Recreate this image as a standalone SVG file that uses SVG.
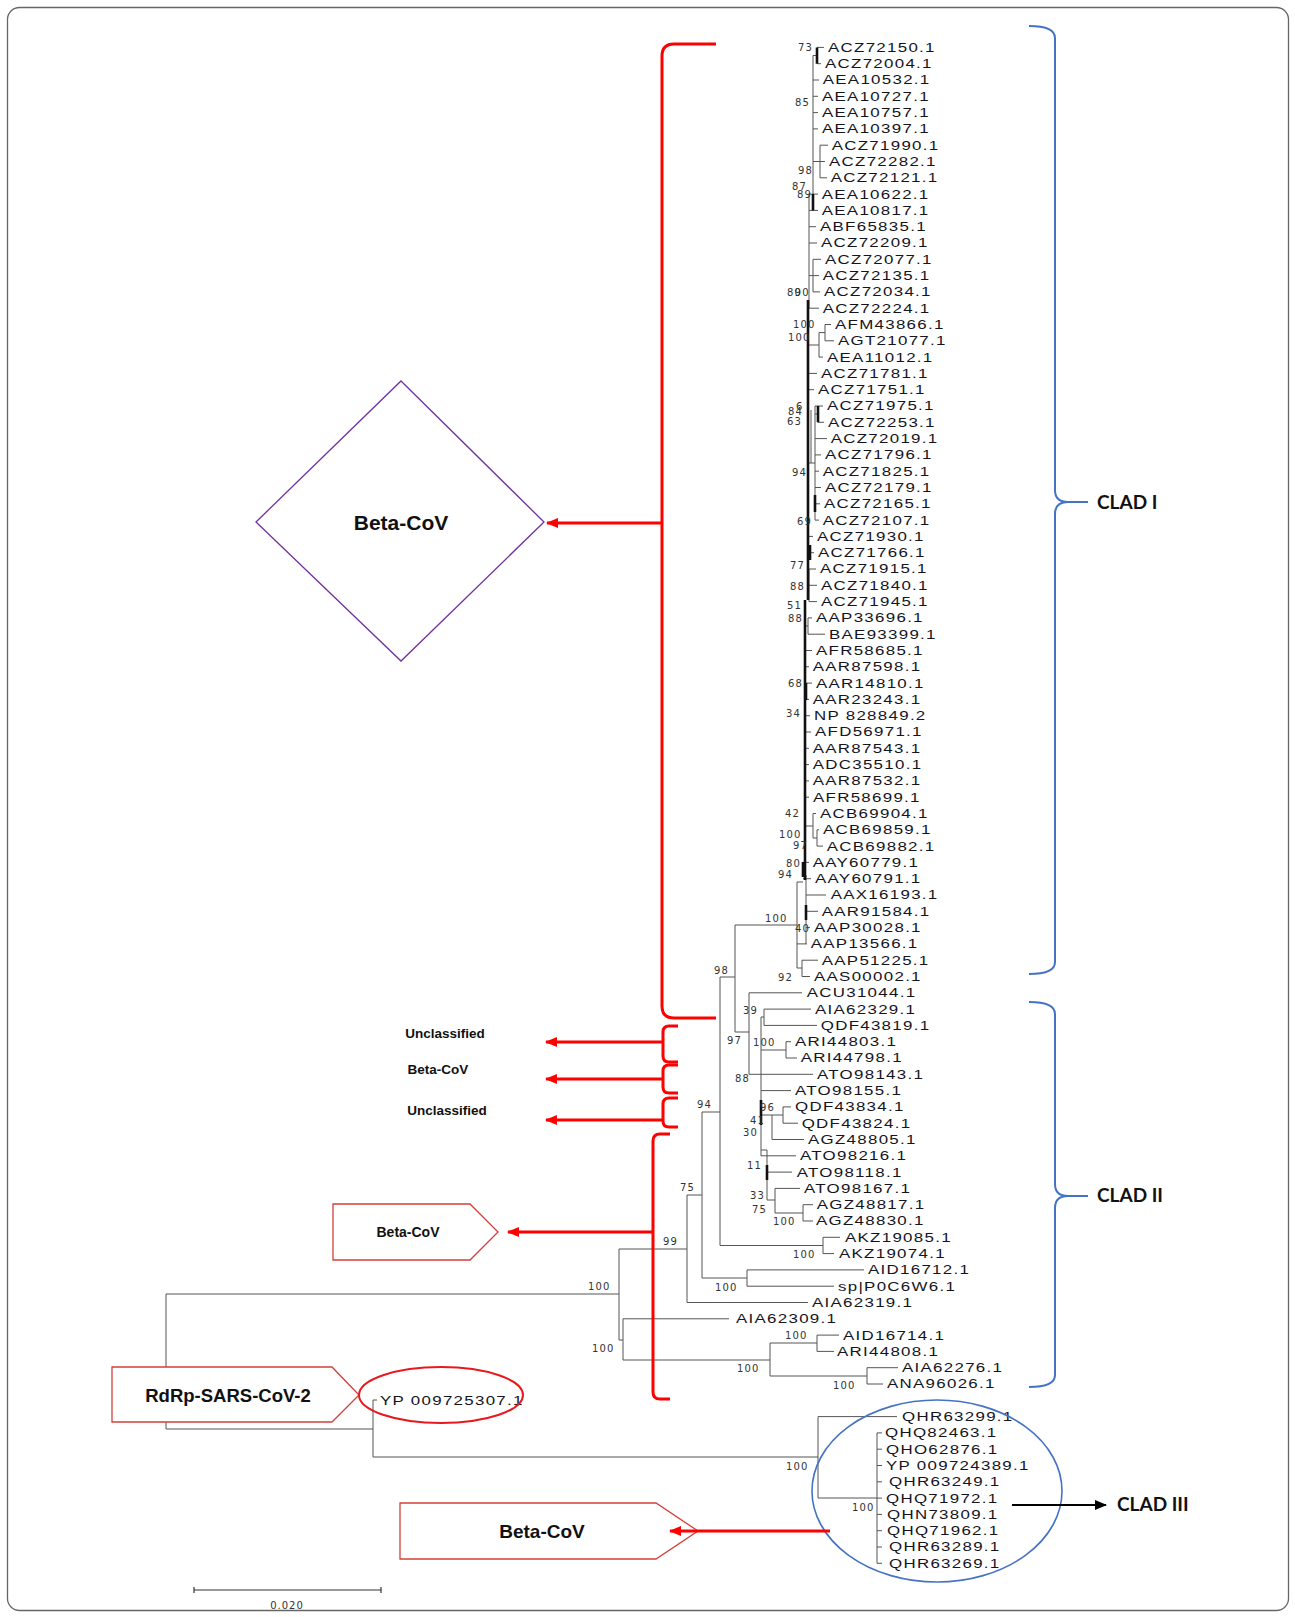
<svg xmlns="http://www.w3.org/2000/svg" width="1295" height="1617" viewBox="0 0 1295 1617">
<style>
.t{fill:none;stroke:#555;stroke-width:1}
.tk{fill:none;stroke:#111;stroke-width:2.6}
.l{font-family:"Liberation Sans",Arial,sans-serif;font-size:13px;letter-spacing:1px;fill:#14141e}
.b{font-family:"DejaVu Sans",sans-serif;font-size:10px;letter-spacing:1.2px;fill:#333}
.rb{fill:none;stroke:#FF0000;stroke-width:3}
.ra{fill:none;stroke:#FF0000;stroke-width:3.2}
.pent{fill:#fff;stroke:#D43F3A;stroke-width:1.3}
.bl{fill:none;stroke:#4472C4;stroke-width:2}
.ann{font-family:"Liberation Sans",Arial,sans-serif;font-weight:bold;fill:#111;text-anchor:middle}
.clad{font-family:Lato,"Liberation Sans",sans-serif;font-weight:bold;font-size:19px;fill:#111}
</style>
<defs>
<marker id="ar" viewBox="0 0 12 10" markerWidth="12" markerHeight="10" refX="11" refY="5" orient="auto" markerUnits="userSpaceOnUse"><path d="M0,0 L12,5 L0,10 z" fill="#FF0000"/></marker>
<marker id="ak" viewBox="0 0 12 10" markerWidth="12" markerHeight="10" refX="11" refY="5" orient="auto" markerUnits="userSpaceOnUse"><path d="M0,0 L12,5 L0,10 z" fill="#000"/></marker>
</defs>
<rect x="0" y="0" width="1295" height="1617" fill="#fff"/>
<rect x="7.5" y="7.5" width="1281" height="1603" rx="12" fill="none" stroke="#666" stroke-width="1.3"/>

<g id="connectors">
<path class="t" d="M166,1294 V1429 M166,1294 H619 M166,1429 H373 M373,1400 V1457 M373,1400 H377 M373,1457 H818
M818,1416.6 V1498 M818,1416.6 H897 M818,1498 H877 M877,1432.9 V1563.3
M877,1432.9 H882 M877,1449.2 H882 M877,1465.5 H882 M877,1481.8 H882 M877,1498.1 H882 M877,1514.4 H882 M877,1530.7 H882 M877,1547 H882 M877,1563.3 H882
M619,1249 V1340 M619,1249 H687 M619,1340 H623 M623,1318.8 V1360 M623,1318.8 H729 M623,1360 H770
M770,1343 V1376 M770,1343 H817 M770,1376 H867 M817,1335.1 V1351.4 M817,1335.1 H839 M817,1351.4 H834
M867,1367.7 V1384 M867,1367.7 H898 M867,1384 H883
M687,1195 V1302.5 M687,1195 H702 M687,1302.5 H808 M702,1112 V1278 M702,1112 H720 M702,1278 H747
M747,1269.9 V1286.2 M747,1269.9 H864 M747,1286.2 H834
M720,977 V1245.5 M720,977 H735 M720,1245.5 H823 M823,1237.3 V1253.6 M823,1237.3 H840 M823,1253.6 H834
M735,925 V1032 M735,925 H797 M735,1032 H749 M749,992.8 V1074.3 M749,992.8 H802 M749,1074.3 H813
M761,1017 V1156 M761,1017 H764 M764,1009.1 V1025.4 M764,1009.1 H811 M764,1025.4 H817
M761,1050 H786 M786,1041.7 V1058 M786,1041.7 H791 M786,1058 H797 M761,1090.6 H791
M761,1115 H783 M783,1106.9 V1123.2 M783,1106.9 H791 M783,1123.2 H798 M772,1115 V1139.5 M772,1139.5 H804
M761,1155.8 H796 M761,1150 H767 M767,1150 V1200 M767,1172.1 H792 M767,1200 H775
M775,1188.4 V1213 M775,1188.4 H800 M775,1213 H803 M803,1204.7 V1221 M803,1204.7 H813 M803,1221 H813
M797,882 V968 M797,882 H803 M797,968 H802 M802,960.2 V976.5 M802,960.2 H818 M802,976.5 H810
M806,875 V944 M806,895 H826 M806,911.3 H818 M806,927.6 H810 M797,943.9 H807 M803,862.4 H809 M803,878.7 H811
M805,826 H813 M813,813.5 V838 M813,813.5 H816 M813,838 H817 M817,829.8 V846.1 M817,829.8 H819 M817,846.1 H823
M805,650.5 H812 M805,666.8 H809 M805,683.1 H812 M805,699.4 H809 M805,715.7 H810 M805,732 H811 M805,748.3 H809 M805,764.6 H809 M805,780.9 H809 M805,797.2 H809
M808,617.9 V634.2 M805,626 H808 M808,617.9 H812 M808,634.2 H825
M808,536.4 H813 M808,552.7 H814 M809,569 V601.6 M808,585 H809 M809,569 H816 M809,585.3 H817 M809,601.6 H817
M815,406 V520.1 M811,410 V463 M808,463 H815 M815,406 H823 M815,414 H818 M818,422.3 H824 M815,438.6 H827 M815,454.9 H821 M815,471.2 H819 M815,487.5 H821 M815,503.8 H820 M815,520.1 H819
M808,345 H819 M819,332.6 V357.1 M819,332.6 H825 M825,324.5 V340.8 M825,324.5 H831 M825,340.8 H834 M819,357.1 H823 M808,373.4 H817 M808,389.7 H814
M809,194.1 V308.2 M809,194.1 H818 M809,210.4 H818 M809,226.7 H816 M809,243 H817 M813,259.3 V291.9 M809,275.6 H813 M813,259.3 H821 M813,275.6 H819 M813,291.9 H820 M809,308.2 H819
M813,55.5 V194.1 M813,55.5 H817 M817,47.4 H824 M817,63.7 H821 M813,80 H819 M813,96.3 H818 M813,112.6 H818 M813,128.9 H818
M820,145.2 V177.8 M820,145.2 H828 M813,161.5 H825 M820,177.8 H827"/>
<path class="tk" d="M817,47.4 V63.7 M808,300 V600 M805,600 V880 M813,194.1 V210.4 M818,406 V422.3 M815,495 V512 M810,545 V560 M806,683 V700 M803,862 V877 M806,905 V920 M761,1100 V1125 M767,1165 V1180 M805,700 V850"/>
</g>

<g id="leaves" transform="scale(1.3,1)">
<text class="l" x="636.92" y="51.9">ACZ72150.1</text>
<text class="l" x="634.62" y="68.2">ACZ72004.1</text>
<text class="l" x="632.85" y="84.5">AEA10532.1</text>
<text class="l" x="632.31" y="100.8">AEA10727.1</text>
<text class="l" x="632.31" y="117.1">AEA10757.1</text>
<text class="l" x="632.31" y="133.4">AEA10397.1</text>
<text class="l" x="639.77" y="149.7">ACZ71990.1</text>
<text class="l" x="637.69" y="166">ACZ72282.1</text>
<text class="l" x="639.00" y="182.3">ACZ72121.1</text>
<text class="l" x="632.08" y="198.6">AEA10622.1</text>
<text class="l" x="632.08" y="214.9">AEA10817.1</text>
<text class="l" x="630.77" y="231.2">ABF65835.1</text>
<text class="l" x="631.54" y="247.5">ACZ72209.1</text>
<text class="l" x="634.62" y="263.8">ACZ72077.1</text>
<text class="l" x="632.85" y="280.1">ACZ72135.1</text>
<text class="l" x="633.85" y="296.4">ACZ72034.1</text>
<text class="l" x="632.85" y="312.7">ACZ72224.1</text>
<text class="l" x="642.31" y="329">AFM43866.1</text>
<text class="l" x="644.62" y="345.3">AGT21077.1</text>
<text class="l" x="636.15" y="361.6">AEA11012.1</text>
<text class="l" x="631.54" y="377.9">ACZ71781.1</text>
<text class="l" x="629.23" y="394.2">ACZ71751.1</text>
<text class="l" x="636.15" y="410.5">ACZ71975.1</text>
<text class="l" x="636.92" y="426.8">ACZ72253.1</text>
<text class="l" x="639.00" y="443.1">ACZ72019.1</text>
<text class="l" x="634.62" y="459.4">ACZ71796.1</text>
<text class="l" x="632.85" y="475.7">ACZ71825.1</text>
<text class="l" x="634.62" y="492">ACZ72179.1</text>
<text class="l" x="633.85" y="508.3">ACZ72165.1</text>
<text class="l" x="632.85" y="524.6">ACZ72107.1</text>
<text class="l" x="628.46" y="540.9">ACZ71930.1</text>
<text class="l" x="629.23" y="557.2">ACZ71766.1</text>
<text class="l" x="630.77" y="573.5">ACZ71915.1</text>
<text class="l" x="631.54" y="589.8">ACZ71840.1</text>
<text class="l" x="631.54" y="606.1">ACZ71945.1</text>
<text class="l" x="627.69" y="622.4">AAP33696.1</text>
<text class="l" x="637.69" y="638.7">BAE93399.1</text>
<text class="l" x="627.69" y="655">AFR58685.1</text>
<text class="l" x="625.15" y="671.3">AAR87598.1</text>
<text class="l" x="627.69" y="687.6">AAR14810.1</text>
<text class="l" x="625.15" y="703.9">AAR23243.1</text>
<text class="l" x="626.15" y="720.2">NP 828849.2</text>
<text class="l" x="626.92" y="736.5">AFD56971.1</text>
<text class="l" x="625.15" y="752.8">AAR87543.1</text>
<text class="l" x="625.15" y="769.1">ADC35510.1</text>
<text class="l" x="625.15" y="785.4">AAR87532.1</text>
<text class="l" x="625.38" y="801.7">AFR58699.1</text>
<text class="l" x="630.77" y="818">ACB69904.1</text>
<text class="l" x="633.08" y="834.3">ACB69859.1</text>
<text class="l" x="635.92" y="850.6">ACB69882.1</text>
<text class="l" x="625.15" y="866.9">AAY60779.1</text>
<text class="l" x="626.92" y="883.2">AAY60791.1</text>
<text class="l" x="639.00" y="899.5">AAX16193.1</text>
<text class="l" x="632.08" y="915.8">AAR91584.1</text>
<text class="l" x="626.15" y="932.1">AAP30028.1</text>
<text class="l" x="623.62" y="948.4">AAP13566.1</text>
<text class="l" x="632.08" y="964.7">AAP51225.1</text>
<text class="l" x="626.15" y="981">AAS00002.1</text>
<text class="l" x="620.54" y="997.3">ACU31044.1</text>
<text class="l" x="626.92" y="1013.6">AIA62329.1</text>
<text class="l" x="631.31" y="1029.9">QDF43819.1</text>
<text class="l" x="611.54" y="1046.2">ARI44803.1</text>
<text class="l" x="615.92" y="1062.5">ARI44798.1</text>
<text class="l" x="628.46" y="1078.8">ATO98143.1</text>
<text class="l" x="611.54" y="1095.1">ATO98155.1</text>
<text class="l" x="611.54" y="1111.4">QDF43834.1</text>
<text class="l" x="616.69" y="1127.7">QDF43824.1</text>
<text class="l" x="621.54" y="1144">AGZ48805.1</text>
<text class="l" x="615.38" y="1160.3">ATO98216.1</text>
<text class="l" x="612.85" y="1176.6">ATO98118.1</text>
<text class="l" x="618.46" y="1192.9">ATO98167.1</text>
<text class="l" x="628.23" y="1209.2">AGZ48817.1</text>
<text class="l" x="627.69" y="1225.5">AGZ48830.1</text>
<text class="l" x="650.00" y="1241.8">AKZ19085.1</text>
<text class="l" x="645.38" y="1258.1">AKZ19074.1</text>
<text class="l" x="667.69" y="1274.4">AID16712.1</text>
<text class="l" x="644.62" y="1290.7">sp|P0C6W6.1</text>
<text class="l" x="624.62" y="1307">AIA62319.1</text>
<text class="l" x="566.15" y="1323.3">AIA62309.1</text>
<text class="l" x="648.46" y="1339.6">AID16714.1</text>
<text class="l" x="643.85" y="1355.9">ARI44808.1</text>
<text class="l" x="693.85" y="1372.2">AIA62276.1</text>
<text class="l" x="682.31" y="1388.5">ANA96026.1</text>
<text class="l" x="292.31" y="1404.8">YP 009725307.1</text>
<text class="l" x="693.85" y="1421.1">QHR63299.1</text>
<text class="l" x="680.77" y="1437.4">QHQ82463.1</text>
<text class="l" x="681.54" y="1453.7">QHO62876.1</text>
<text class="l" x="681.54" y="1470">YP 009724389.1</text>
<text class="l" x="683.85" y="1486.3">QHR63249.1</text>
<text class="l" x="681.54" y="1502.6">QHQ71972.1</text>
<text class="l" x="682.31" y="1518.9">QHN73809.1</text>
<text class="l" x="682.31" y="1535.2">QHQ71962.1</text>
<text class="l" x="683.85" y="1551.5">QHR63289.1</text>
<text class="l" x="683.85" y="1567.8">QHR63269.1</text>
</g>

<g id="bootstrap">
<text class="b" x="798" y="51">73</text>
<text class="b" x="795" y="106">85</text>
<text class="b" x="798" y="174">98</text>
<text class="b" x="792" y="190">87</text>
<text class="b" x="797" y="198">89</text>
<text class="b" x="787" y="296">80</text>
<text class="b" x="794.6" y="296">90</text>
<text class="b" x="793" y="328">100</text>
<text class="b" x="788" y="341">100</text>
<text class="b" x="796" y="409.5">6</text>
<text class="b" x="788" y="414.5">84</text>
<text class="b" x="787" y="424.5">63</text>
<text class="b" x="792" y="476">94</text>
<text class="b" x="797" y="525">69</text>
<text class="b" x="790" y="569">77</text>
<text class="b" x="790" y="590">88</text>
<text class="b" x="787" y="609">51</text>
<text class="b" x="788" y="622">88</text>
<text class="b" x="788" y="687">68</text>
<text class="b" x="786" y="717">34</text>
<text class="b" x="785" y="817">42</text>
<text class="b" x="779" y="838">100</text>
<text class="b" x="793" y="849">97</text>
<text class="b" x="786" y="867">80</text>
<text class="b" x="778" y="878">94</text>
<text class="b" x="765" y="922">100</text>
<text class="b" x="795" y="932">40</text>
<text class="b" x="714" y="974">98</text>
<text class="b" x="778" y="981">92</text>
<text class="b" x="743" y="1014">39</text>
<text class="b" x="727" y="1044">97</text>
<text class="b" x="753" y="1046">100</text>
<text class="b" x="735" y="1082">88</text>
<text class="b" x="697" y="1108">94</text>
<text class="b" x="760" y="1111">96</text>
<text class="b" x="750" y="1124">41</text>
<text class="b" x="743" y="1136">30</text>
<text class="b" x="747" y="1169">11</text>
<text class="b" x="680" y="1191">75</text>
<text class="b" x="750" y="1199">33</text>
<text class="b" x="752" y="1213">75</text>
<text class="b" x="773" y="1225">100</text>
<text class="b" x="663" y="1245">99</text>
<text class="b" x="793" y="1258">100</text>
<text class="b" x="588" y="1290">100</text>
<text class="b" x="715" y="1291">100</text>
<text class="b" x="785" y="1339">100</text>
<text class="b" x="592" y="1352">100</text>
<text class="b" x="737" y="1372">100</text>
<text class="b" x="833" y="1389">100</text>
<text class="b" x="786" y="1470">100</text>
<text class="b" x="852" y="1511">100</text>
</g>

<g id="beta-cov-diamond">
<path d="M401,381 L544,522 L401,661 L256,522 Z" fill="none" stroke="#7030A0" stroke-width="1.3"/>
<text class="ann" x="401" y="530" font-size="21">Beta-CoV</text>
</g>
<g id="unclassified-1"><text class="ann" x="445" y="1038" font-size="13.5">Unclassified</text></g>
<g id="beta-cov-small"><text class="ann" x="438" y="1074" font-size="13.5">Beta-CoV</text></g>
<g id="unclassified-2"><text class="ann" x="447" y="1115" font-size="13.5">Unclassified</text></g>
<g id="beta-cov-pentagon">
<path class="pent" d="M333,1204 L470,1204 L498,1232 L470,1260 L333,1260 Z"/>
<text class="ann" x="408" y="1237" font-size="14">Beta-CoV</text>
</g>
<g id="rdrp-sars-cov-2">
<path class="pent" d="M112,1367 L332,1367 L359,1395 L332,1422 L112,1422 Z"/>
<text class="ann" x="228" y="1401.5" font-size="18.5">RdRp-SARS-CoV-2</text>
</g>
<g id="sars-ellipse"><ellipse cx="441" cy="1395" rx="82" ry="28" fill="none" stroke="#E8191E" stroke-width="2"/></g>
<g id="clad3-ellipse"><ellipse cx="937" cy="1491" rx="125" ry="91" fill="none" stroke="#4472C4" stroke-width="1.6"/></g>
<g id="beta-cov-bottom">
<path class="pent" d="M400,1503 L656,1503 L698,1531 L656,1559 L400,1559 Z"/>
<text class="ann" x="542" y="1538" font-size="19">Beta-CoV</text>
</g>
<g id="clad-1"><text class="clad" x="1097" y="508.5">CLAD I</text></g>
<g id="clad-2"><text class="clad" x="1097" y="1202">CLAD II</text></g>
<g id="clad-3"><text class="clad" x="1117" y="1511">CLAD III</text></g>
<g id="scale-bar">
<path d="M194,1590 H381 M194,1587 V1593 M381,1587 V1593" stroke="#333" stroke-width="1.2" fill="none"/>
<text x="287" y="1609" font-family="DejaVu Sans,sans-serif" font-size="10" letter-spacing="1" fill="#333" text-anchor="middle">0.020</text>
</g>

<g id="annotation-connectors">
<path class="rb" d="M716,44 L674,44 Q662,44 662,56 L662,1006 Q662,1018 674,1018 L716,1018"/>
<path class="ra" d="M662,523 H547" marker-end="url(#ar)"/>
<path class="rb" d="M678,1026 L669,1026 Q663,1026 663,1032 L663,1056 Q663,1062 669,1062 L678,1062"/>
<path class="ra" d="M663,1042 H546" marker-end="url(#ar)"/>
<path class="rb" d="M678,1065 L669,1065 Q663,1065 663,1071 L663,1087 Q663,1093 669,1093 L678,1093"/>
<path class="ra" d="M663,1079 H546" marker-end="url(#ar)"/>
<path class="rb" d="M678,1098 L669,1098 Q663,1098 663,1104 L663,1121 Q663,1127 669,1127 L678,1127"/>
<path class="ra" d="M663,1120 H546" marker-end="url(#ar)"/>
<path class="rb" d="M670,1134 L660,1134 Q653,1134 653,1141 L653,1392 Q653,1399 660,1399 L670,1399"/>
<path class="ra" d="M653,1232 H508" marker-end="url(#ar)"/>
<path class="ra" d="M830,1531 H670" marker-end="url(#ar)"/>
<path d="M1012,1505 H1106" stroke="#000" stroke-width="2" fill="none" marker-end="url(#ak)"/>
<path class="bl" d="M1029,26 Q1055,26 1055,38 L1055,490 Q1055,502 1068,502 Q1055,502 1055,514 L1055,962 Q1055,974 1029,974 M1068,502 H1088"/>
<path class="bl" d="M1029,1002 Q1055,1002 1055,1014 L1055,1184 Q1055,1196 1068,1196 Q1055,1196 1055,1208 L1055,1375 Q1055,1387 1029,1387 M1068,1196 H1088"/>
</g>
</svg>
